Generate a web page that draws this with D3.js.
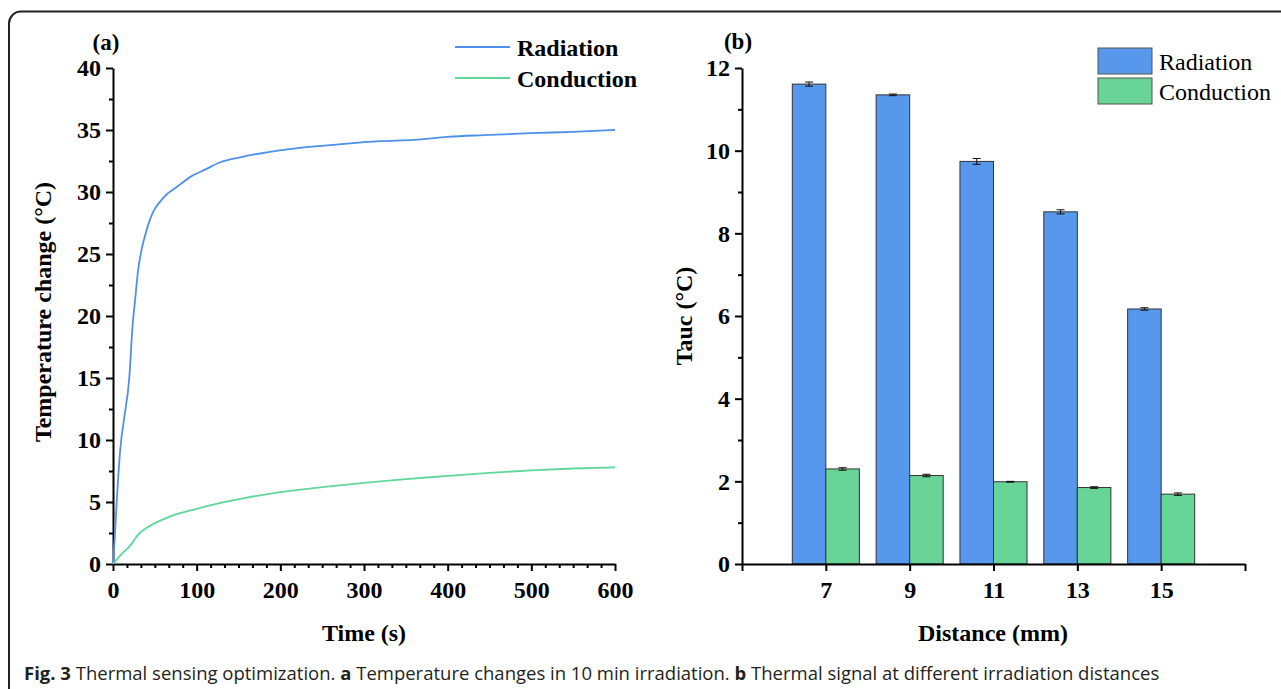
<!DOCTYPE html>
<html>
<head>
<meta charset="utf-8">
<script src="https://cdn.jsdelivr.net/npm/d3@7"></script>
<style>
  body { margin: 0; background: #fff; }
  svg { display: block; }
  .tick text { font-family: "Liberation Serif", "Times New Roman", serif; font-weight: bold; font-size: 24px; fill: #000; }
</style>
</head>
<body>
<div id="chart"></div>
<script>
// panel (a): temperature change vs time
const radTime = [0, 2, 4, 6, 8, 10, 13, 16, 18, 20, 22, 24, 26, 30, 34, 40, 48, 56, 64, 72, 80, 92, 110, 128, 152, 184, 216, 263, 319, 360, 400, 450, 500, 550, 600];
const radTemp = [0, 2, 4.5, 6.8, 8.7, 10.1, 11.6, 13, 14, 15.5, 17.8, 19.7, 21, 23.7, 25.3, 26.9, 28.4, 29.2, 29.8, 30.2, 30.6, 31.2, 31.8, 32.4, 32.8, 33.2, 33.5, 33.8, 34.1, 34.2, 34.45, 34.6, 34.75, 34.85, 35.0];
const condTime = [0, 5, 11, 18, 22, 27, 32, 40, 50, 60, 75, 100, 130, 160, 200, 250, 300, 350, 400, 450, 500, 550, 600];
const condTemp = [0, 0.4, 0.85, 1.3, 1.6, 2.1, 2.5, 2.9, 3.3, 3.6, 4.0, 4.45, 4.95, 5.35, 5.8, 6.2, 6.55, 6.85, 7.1, 7.35, 7.55, 7.7, 7.8];

// panel (b): Tauc vs distance
const distances = [7, 9, 11, 13, 15];
const radTauc = [11.61, 11.35, 9.74, 8.52, 6.17];
const radErr = [0.05, 0.02, 0.07, 0.05, 0.03];
const condTauc = [2.30, 2.14, 1.99, 1.85, 1.69];
const condErr = [0.03, 0.03, 0.01, 0.02, 0.03];

const seriesNames = ["Radiation", "Conduction"];
const lineColors = ["#4f90ea", "#5fd79b"];
const barColors = ["#5898ec", "#68d498"];

const serif = '"Liberation Serif", "Times New Roman", serif';

const svg = d3.select("#chart").append("svg")
    .attr("width", 1281)
    .attr("height", 689);

// frame round the figure
svg.append("path")
    .attr("d", "M9,700 V24 A12,12 0 0 1 21,11.5 H1290")
    .attr("fill", "none")
    .attr("stroke", "#222")
    .attr("stroke-width", 2);

function styleAxis(g) {
    g.select(".domain").attr("stroke", "#000").attr("stroke-width", 2);
    g.selectAll(".tick line").attr("stroke", "#000").attr("stroke-width", 2);
}

// ---------- panel (a) ----------
const xA = d3.scaleLinear().domain([0, 600]).range([113, 615]);
const yA = d3.scaleLinear().domain([0, 40]).range([564, 68]);

const minorXA = d3.range(0, 601, 100 / 6).filter((d, i) => i % 6 !== 0);
svg.append("g")
    .attr("transform", "translate(0,564)")
    .call(d3.axisBottom(xA).tickValues(minorXA).tickSize(4).tickFormat(""))
    .call(g => g.select(".domain").remove())
    .call(styleAxis);
svg.append("g")
    .attr("transform", "translate(113,0)")
    .call(d3.axisLeft(yA).tickValues(d3.range(2.5, 40, 5)).tickSize(4).tickFormat(""))
    .call(g => g.select(".domain").remove())
    .call(styleAxis);

svg.append("g")
    .attr("transform", "translate(0,564)")
    .call(d3.axisBottom(xA).tickValues(d3.range(0, 601, 100)).tickSize(7).tickSizeOuter(0).tickPadding(10))
    .call(styleAxis);
svg.append("g")
    .attr("transform", "translate(113,0)")
    .call(d3.axisLeft(yA).tickValues(d3.range(0, 41, 5)).tickSize(7).tickSizeOuter(0).tickPadding(5))
    .call(styleAxis);

const lineA = d3.line()
    .x(d => xA(d[0]))
    .y(d => yA(d[1]))
    .curve(d3.curveMonotoneX);

const linesData = [d3.zip(radTime, radTemp), d3.zip(condTime, condTemp)];
svg.selectAll(".curve")
    .data(linesData)
    .join("path")
    .attr("class", "curve")
    .attr("d", lineA)
    .attr("fill", "none")
    .attr("stroke", (d, i) => lineColors[i])
    .attr("stroke-width", 1.8);

// legend (a)
const legA = svg.append("g");
seriesNames.forEach((name, i) => {
    legA.append("line")
        .attr("x1", 455).attr("x2", 510)
        .attr("y1", 47 + i * 31).attr("y2", 47 + i * 31)
        .attr("stroke", lineColors[i]).attr("stroke-width", 2);
    legA.append("text")
        .attr("x", 517).attr("y", 56 + i * 31)
        .attr("font-family", serif).attr("font-weight", "bold").attr("font-size", 24)
        .text(name);
});

svg.append("text")
    .attr("x", 106).attr("y", 50)
    .attr("text-anchor", "middle")
    .attr("font-family", serif).attr("font-weight", "bold").attr("font-size", 23)
    .text("(a)");

svg.append("text")
    .attr("x", 364).attr("y", 641)
    .attr("text-anchor", "middle")
    .attr("font-family", serif).attr("font-weight", "bold").attr("font-size", 24)
    .text("Time (s)");

svg.append("text")
    .attr("transform", "translate(51,312) rotate(-90)")
    .attr("text-anchor", "middle")
    .attr("font-family", serif).attr("font-weight", "bold").attr("font-size", 24)
    .text("Temperature change (°C)");

// ---------- panel (b) ----------
const xB = d3.scaleLinear().domain([5, 17]).range([742, 1245]);
const yB = d3.scaleLinear().domain([0, 12]).range([564, 68]);
const barW = xB(5.8) - xB(5);

svg.append("g")
    .attr("transform", "translate(742,0)")
    .call(d3.axisLeft(yB).tickValues(d3.range(1, 12, 2)).tickSize(4).tickFormat(""))
    .call(g => g.select(".domain").remove())
    .call(styleAxis);
svg.append("g")
    .attr("transform", "translate(742,0)")
    .call(d3.axisLeft(yB).tickValues(d3.range(0, 13, 2)).tickSize(7).tickSizeOuter(0).tickPadding(5))
    .call(styleAxis);

const bars = distances.map((d, i) => [
    { x: d, v: radTauc[i], e: radErr[i], s: 0 },
    { x: d, v: condTauc[i], e: condErr[i], s: 1 }
]).flat();

const barG = svg.append("g");
barG.selectAll("rect")
    .data(bars)
    .join("rect")
    .attr("x", d => d.s === 0 ? xB(d.x) - barW : xB(d.x))
    .attr("y", d => yB(d.v))
    .attr("width", barW)
    .attr("height", d => yB(0) - yB(d.v))
    .attr("fill", d => barColors[d.s])
    .attr("stroke", "#333")
    .attr("stroke-width", 1);

// error bars
const errG = svg.append("g").attr("stroke", "#111").attr("stroke-width", 1);
bars.forEach(d => {
    const cx = d.s === 0 ? xB(d.x) - barW / 2 : xB(d.x) + barW / 2;
    const y0 = yB(d.v - d.e), y1 = yB(d.v + d.e);
    errG.append("line").attr("x1", cx).attr("x2", cx).attr("y1", y0).attr("y2", y1);
    errG.append("line").attr("x1", cx - 4).attr("x2", cx + 4).attr("y1", y0).attr("y2", y0);
    errG.append("line").attr("x1", cx - 4).attr("x2", cx + 4).attr("y1", y1).attr("y2", y1);
});

svg.append("g")
    .attr("transform", "translate(0,564)")
    .call(d3.axisBottom(xB).tickValues(d3.range(5, 18, 2)).tickSize(7).tickSizeOuter(0).tickPadding(10)
        .tickFormat(d => (d === 5 || d === 17) ? "" : d))
    .call(styleAxis);

// legend (b)
const legB = svg.append("g");
seriesNames.forEach((name, i) => {
    legB.append("rect")
        .attr("x", 1098).attr("y", 48 + i * 30)
        .attr("width", 54).attr("height", 26)
        .attr("fill", barColors[i]).attr("stroke", "#555").attr("stroke-width", 1);
    legB.append("text")
        .attr("x", 1159).attr("y", 70 + i * 30)
        .attr("font-family", serif).attr("font-size", 24)
        .text(name);
});

svg.append("text")
    .attr("x", 738).attr("y", 49)
    .attr("text-anchor", "middle")
    .attr("font-family", serif).attr("font-weight", "bold").attr("font-size", 23)
    .text("(b)");

svg.append("text")
    .attr("x", 993).attr("y", 641)
    .attr("text-anchor", "middle")
    .attr("font-family", serif).attr("font-weight", "bold").attr("font-size", 24)
    .text("Distance (mm)");

svg.append("text")
    .attr("transform", "translate(692,316) rotate(-90)")
    .attr("text-anchor", "middle")
    .attr("font-family", serif).attr("font-weight", "bold").attr("font-size", 24)
    .text("Tauc (°C)");

// caption
const cap = svg.append("text")
    .attr("x", 24).attr("y", 680)
    .attr("font-family", '"Open Sans", "Noto Sans", sans-serif')
    .attr("font-size", 18.5)
    .attr("fill", "#231f20");
cap.append("tspan").attr("font-weight", "bold").text("Fig. 3");
cap.append("tspan").text(" Thermal sensing optimization. ");
cap.append("tspan").attr("font-weight", "bold").text("a");
cap.append("tspan").text(" Temperature changes in 10 min irradiation. ");
cap.append("tspan").attr("font-weight", "bold").text("b");
cap.append("tspan").text(" Thermal signal at different irradiation distances");
</script>
</body>
</html>
